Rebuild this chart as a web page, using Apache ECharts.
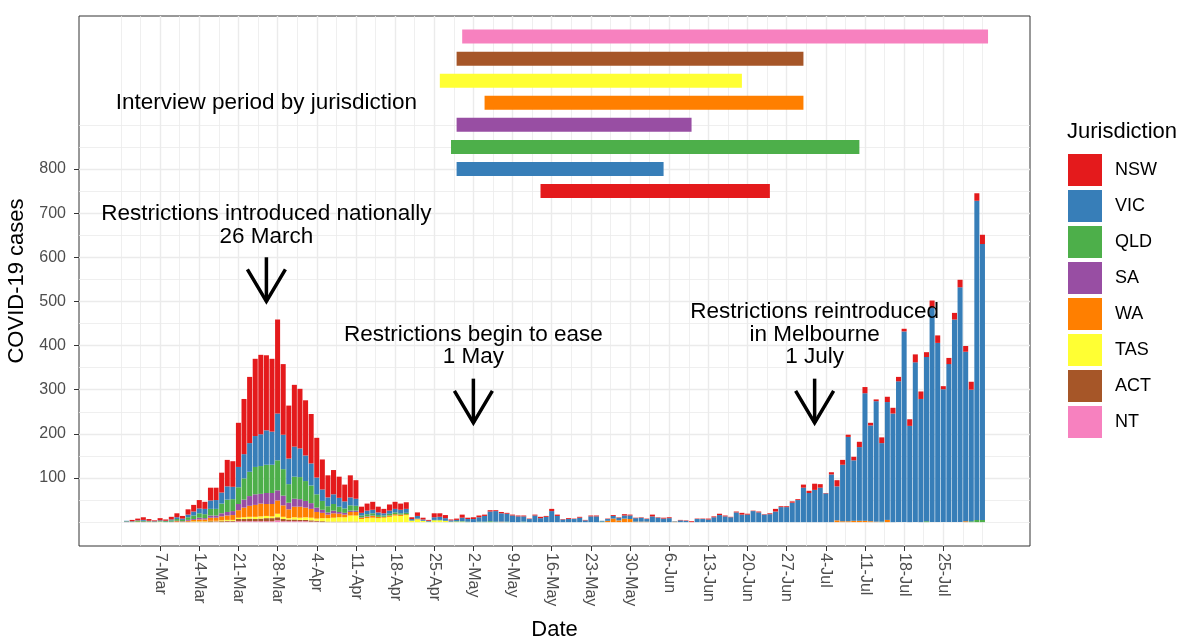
<!DOCTYPE html>
<html><head><meta charset="utf-8">
<script src="https://cdn.jsdelivr.net/npm/echarts@6/dist/echarts.min.js"></script>
<style>html,body{margin:0;padding:0;background:#fff}#chart{width:1188px;height:642px}</style>
</head><body><div id="chart"></div>
<script>
// ---------------- data ----------------
const firstDay = '2020-03-01';
const jurisdictions = ['NSW','VIC','QLD','SA','WA','TAS','ACT','NT'];

const nsw = [0,3,4,6,4,2,5,3,6,9,
 6,12,15,19,16,29,28,45,60,58,
 100,125,150,175,180,170,165,213,160,120,
 140,135,125,112,90,68,50,55,48,38,
 50,42,14,16,18,13,10,14,16,14,
 15,4,8,4,2,9,8,7,2,3,
 7,3,4,4,3,3,2,3,2,2,
 2,2,1,2,3,2,5,3,1,2,
 1,2,1,2,2,0,1,2,1,3,
 2,1,1,1,4,1,2,2,0,1,
 1,2,1,1,2,2,3,2,1,2,
 4,2,1,2,1,2,6,2,2,3,
 2,7,5,14,8,1,5,14,11,5,
 8,12,14,6,4,13,12,13,10,6,
 15,18,17,11,16,17,7,14,15,17,
 13,18,17,21];
const vic = [1,1,1,2,1,1,2,1,2,4,
 3,6,9,11,12,19,20,25,30,28,
 46,55,65,70,72,78,75,106,78,58,
 68,65,58,50,38,26,20,22,20,16,
 18,16,6,8,8,6,5,7,8,8,
 9,3,6,3,2,6,7,6,3,3,
 8,6,7,10,13,22,24,19,18,15,
 13,12,7,15,9,12,25,14,6,7,
 7,10,4,13,13,2,4,6,6,7,
 8,8,9,6,13,10,8,9,1,4,
 3,0,7,7,6,11,16,13,11,22,
 17,17,25,22,17,18,24,34,34,44,
 50,78,66,73,78,65,108,77,128,191,
 137,167,289,217,273,178,267,246,319,432,
 218,362,279,372,486,406,301,358,459,532,
 384,298,723,625];
const qld = [1,1,2,2,1,1,1,2,3,4,
 3,6,8,10,9,15,15,22,28,27,
 38,48,55,62,63,64,64,68,60,42,
 50,50,45,40,30,20,14,15,12,10,
 12,11,4,5,5,4,3,4,4,3,
 3,1,1,0,0,1,1,0,0,1,
 1,1,0,1,1,2,1,0,1,0,
 0,1,0,0,0,0,0,0,0,0,
 0,0,0,0,0,1,0,0,0,0,
 0,0,0,0,0,0,0,0,0,0,
 0,0,0,0,0,0,0,0,0,0,
 0,0,0,0,0,0,0,0,0,0,
 0,0,0,0,0,0,0,0,0,0,
 0,0,0,0,0,1,0,0,0,0,
 0,0,0,2,0,0,0,0,0,0,
 0,2,5,5];
const sa = [1,0,0,1,0,0,0,0,1,1,
 1,2,2,4,3,5,5,7,8,9,
 14,18,22,24,22,25,25,23,22,15,
 18,17,15,13,10,7,5,6,4,4,
 3,3,1,1,1,0,0,0,0,0,
 0,0,0,0,0,0,0,0,0,0,
 0,0,0,0,0,0,0,0,0,0,
 0,0,0,0,0,0,0,0,0,0,
 0,0,0,0,0,0,0,0,0,0,
 0,0,0,0,0,0,0,0,0,0,
 0,0,0,0,0,0,0,0,0,0,
 0,0,0,0,0,0,0,0,0,0,
 0,0,0,0,0,0,0,0,0,0,
 0,0,0,0,0,0,0,0,0,0,
 0,0,0,0,0,0,0,0,0,0,
 0,0,0,0];
const wa = [0,0,1,0,1,0,0,0,0,2,
 1,2,3,4,4,7,7,9,10,11,
 17,22,25,27,29,27,28,30,26,20,
 24,25,22,20,15,12,8,10,8,6,
 8,8,3,3,4,3,2,3,3,3,
 2,0,1,0,0,0,0,0,0,0,
 0,0,0,0,0,0,0,1,0,0,
 0,0,0,0,0,0,0,0,0,0,
 0,0,0,0,0,0,3,8,4,8,
 7,1,1,1,0,0,0,0,1,0,
 0,0,0,0,0,0,0,0,0,0,
 0,0,0,0,0,0,0,0,0,0,
 0,0,0,0,0,0,0,4,2,2,
 3,3,3,2,1,0,5,0,0,0,
 0,0,0,0,0,0,0,0,0,0,
 2,0,0,0];
const tas = [0,0,0,0,0,0,1,0,0,0,
 0,0,1,1,1,1,1,2,2,2,
 3,4,4,5,5,5,4,8,5,3,
 5,5,6,6,5,7,8,9,10,10,
 14,14,7,9,10,9,10,12,15,14,
 16,3,6,3,1,4,4,3,1,1,
 1,0,0,0,0,0,0,0,0,0,
 0,0,0,0,0,0,0,0,0,0,
 0,0,0,0,0,0,0,0,0,0,
 0,0,0,0,0,0,0,0,0,0,
 0,0,0,0,0,0,0,0,0,0,
 0,0,0,0,0,0,0,0,0,0,
 0,0,0,0,0,0,0,0,0,0,
 0,0,0,0,0,0,0,0,0,0,
 0,0,0,0,0,0,0,0,0,0,
 0,0,0,0];
const act = [0,0,0,0,0,0,0,0,0,0,
 0,1,1,1,1,2,1,2,2,2,
 5,5,6,5,6,7,7,7,5,4,
 4,3,3,3,2,2,1,1,1,1,
 1,1,0,0,0,0,0,0,0,0,
 0,0,0,0,0,0,0,0,0,0,
 0,0,0,0,0,0,0,0,0,0,
 0,0,0,0,0,0,0,0,0,0,
 0,0,0,0,0,0,0,0,0,0,
 0,0,0,0,0,0,0,0,0,0,
 0,0,0,0,0,0,0,0,0,0,
 0,0,0,0,0,0,0,0,0,0,
 0,0,0,0,0,0,0,0,0,0,
 0,0,0,0,0,0,0,0,0,0,
 0,0,0,0,0,0,0,0,0,0,
 0,0,0,0];
const nt = [0,0,0,0,0,0,0,0,0,0,
 0,0,0,0,0,0,1,0,1,1,
 2,2,2,2,2,2,2,4,2,2,
 2,2,2,1,1,0,0,0,0,0,
 0,0,0,0,0,0,0,0,0,0,
 0,0,0,0,0,0,0,0,0,0,
 0,0,0,0,0,0,0,0,0,0,
 0,0,0,0,0,0,0,0,0,0,
 0,0,0,0,0,0,0,0,0,0,
 0,0,0,0,0,0,0,0,0,0,
 0,0,0,0,0,0,0,0,0,0,
 0,0,0,0,0,0,0,0,0,0,
 0,0,0,0,0,0,0,0,0,0,
 0,0,0,0,0,0,0,0,0,0,
 0,0,0,0,0,0,0,0,0,0,
 0,0,0,0];

const tickDates = ['2020-03-07','2020-03-14','2020-03-21','2020-03-28','2020-04-04','2020-04-11','2020-04-18',
 '2020-04-25','2020-05-02','2020-05-09','2020-05-16','2020-05-23','2020-05-30','2020-06-06','2020-06-13',
 '2020-06-20','2020-06-27','2020-07-04','2020-07-11','2020-07-18','2020-07-25'];
const yTicks = [100,200,300,400,500,600,700,800];

// interview periods (NSW .. NT)
const interviewStart = ['2020-05-14','2020-04-29','2020-04-28','2020-04-29','2020-05-04','2020-04-26','2020-04-29','2020-04-30'];
const interviewEnd   = ['2020-06-24','2020-06-05','2020-07-10','2020-06-10','2020-06-30','2020-06-19','2020-06-30','2020-08-02'];
const interviewLevel = [750,800,850,900,950,1000,1050,1100];

// annotations
const noteText = ['Restrictions introduced nationally\n26 March','Restrictions begin to ease\n1 May',
                  'Restrictions reintroduced\nin Melbourne\n1 July','Interview period by jurisdiction'];
const noteDate = ['2020-03-26','2020-05-02','2020-07-02','2020-03-26'];
const noteY = [621,348,348,950];
const arrowDate = ['2020-03-26','2020-05-02','2020-07-02'];
const arrowFrom = [600,325,325];
const arrowTo = [500,225,225];

// ---------------- helpers / styles ----------------
const FONT = '"Liberation Sans", Arial, Helvetica, sans-serif';
const palette = {NSW:'#E41A1C', VIC:'#377EB8', QLD:'#4DAF4A', SA:'#984EA3', WA:'#FF7F00', TAS:'#FFFF33', ACT:'#A65628', NT:'#F781BF'};
const DAY = 86400000;
const base = Date.parse(firstDay + 'T00:00:00Z');
const idx = s => Math.round((Date.parse(s + 'T00:00:00Z') - base) / DAY);
const MON = ['Jan','Feb','Mar','Apr','May','Jun','Jul','Aug','Sep','Oct','Nov','Dec'];
const fmtDate = v => { const d = new Date(base + Math.round(v) * DAY); return d.getUTCDate() + '-' + MON[d.getUTCMonth()]; };

const tickK = tickDates.map(idx);
const xMinor = [];
for (let v = tickK[0] - 7; v <= tickK[tickK.length - 1] + 7 + 1e-6; v += 3.5) { if (tickK.indexOf(v) < 0) xMinor.push(v); }
const yMinor = [];
for (let v = 0; v <= 900; v += 50) { if (yTicks.indexOf(v) < 0) yMinor.push(v); }

// panel range in days since firstDay (one category per day on the bar axis)
const K_FIRST = -8, K_LAST = 161;
const X_MIN = K_FIRST - 0.5, X_MAX = K_LAST + 0.5, Y_MIN = -54.1, Y_MAX = 1146.6;
const dayCats = [];
for (let k = K_FIRST; k <= K_LAST; k++) dayCats.push(String(k));
const GRID_COLOR = '#EBEBEB';

const seriesData = {NSW: nsw, VIC: vic, QLD: qld, SA: sa, WA: wa, TAS: tas, ACT: act, NT: nt};
const barSeries = jurisdictions.slice().reverse().map(j => ({
  name: j, type: 'bar', stack: 'cases', xAxisIndex: 2, yAxisIndex: 0,
  barWidth: '90%', itemStyle: {color: palette[j]}, emphasis: {disabled: true},
  data: seriesData[j].map((v, i) => [String(i), v])
}));

const interviewSeries = {
  type: 'custom', name: 'interview', xAxisIndex: 0, yAxisIndex: 0, silent: true, z: 5,
  encode: {x: [0, 1], y: 2},
  data: jurisdictions.map((j, i) => [idx(interviewStart[i]), idx(interviewEnd[i]), interviewLevel[i], i]),
  renderItem: (params, api) => {
    const a = api.coord([api.value(0), api.value(2)]);
    const b = api.coord([api.value(1), api.value(2)]);
    return {type: 'rect', shape: {x: a[0], y: a[1] - 7, width: b[0] - a[0], height: 14},
            style: {fill: palette[jurisdictions[api.value(3)]]}};
  }
};

const noteSeries = {
  type: 'custom', name: 'notes', xAxisIndex: 0, yAxisIndex: 0, silent: true, z: 6,
  encode: {x: 0, y: 1},
  data: noteText.map((t, i) => [idx(noteDate[i]), noteY[i], i]),
  renderItem: (params, api) => {
    const i = api.value(2);
    const p = api.coord([api.value(0), api.value(1)]);
    return {type: 'text', x: p[0], y: p[1],
      style: {text: noteText[i], fill: '#000', fontSize: 22.5, fontFamily: FONT,
              align: 'center', verticalAlign: i === 3 ? 'middle' : 'bottom', lineHeight: 22.5}};
  }
};

const arrowSeries = {
  type: 'custom', name: 'arrows', xAxisIndex: 0, yAxisIndex: 0, silent: true, z: 6,
  encode: {x: 0, y: [1, 2]},
  data: arrowDate.map((d, i) => [idx(d), arrowFrom[i], arrowTo[i]]),
  renderItem: (params, api) => {
    const a = api.coord([api.value(0), api.value(1)]);
    const b = api.coord([api.value(0), api.value(2)]);
    const st = {stroke: '#000', lineWidth: 3.5, fill: null, lineJoin: 'miter'};
    return {type: 'group', children: [
      {type: 'line', shape: {x1: a[0], y1: a[1], x2: b[0], y2: b[1]}, style: st},
      {type: 'polyline', shape: {points: [[b[0] - 19, b[1] - 32], [b[0], b[1]], [b[0] + 19, b[1] - 32]]}, style: st}
    ]};
  }
};

const hiddenParts = {axisLine: {show: false, onZero: false}, axisLabel: {show: false}};

const option = {
  animation: false,
  textStyle: {fontFamily: FONT},
  title: {text: 'Jurisdiction', left: 1067, top: 121, padding: 0,
          textStyle: {fontSize: 22, fontWeight: 'normal', color: '#000', fontFamily: FONT}},
  legend: {data: jurisdictions, orient: 'vertical', left: 1068, top: 154, padding: 0,
           itemWidth: 34, itemHeight: 32, itemGap: 4, icon: 'rect', selectedMode: false,
           textStyle: {fontSize: 18, color: '#000', fontFamily: FONT, padding: [0, 0, 0, 8]}},
  grid: {left: 79, top: 16, width: 951, height: 530, show: true, borderColor: '#333333', borderWidth: 1,
         backgroundColor: '#fff', containLabel: false, outerBoundsMode: 'none'},
  xAxis: [
    {type: 'value', min: X_MIN, max: X_MAX, axisLine: {show: false, onZero: false},
     axisTick: {show: true, customValues: tickK, length: 5, lineStyle: {color: '#333333', width: 1}},
     axisLabel: {customValues: tickK, rotate: -90, formatter: fmtDate, color: '#4D4D4D', fontSize: 16, margin: 7, fontFamily: FONT},
     splitLine: {show: true, lineStyle: {color: GRID_COLOR, width: 1.4}},
     name: 'Date', nameLocation: 'middle', nameGap: 73,
     nameTextStyle: {fontSize: 22, color: '#000', fontFamily: FONT}},
    Object.assign({type: 'value', min: X_MIN, max: X_MAX,
     axisTick: {show: false, customValues: xMinor},
     splitLine: {show: true, lineStyle: {color: GRID_COLOR, width: 0.8}}}, hiddenParts),
    {type: 'category', data: dayCats, boundaryGap: true, show: false,
     axisLine: {show: false, onZero: false}, axisTick: {show: false}, axisLabel: {show: false}, splitLine: {show: false}}
  ],
  yAxis: [
    {type: 'value', min: Y_MIN, max: Y_MAX, axisLine: {show: false, onZero: false},
     axisTick: {show: true, customValues: yTicks, length: 5, lineStyle: {color: '#333333', width: 1}},
     axisLabel: {customValues: yTicks, color: '#4D4D4D', fontSize: 16, margin: 13, fontFamily: FONT},
     splitLine: {show: true, lineStyle: {color: GRID_COLOR, width: 1.4}},
     name: 'COVID-19 cases', nameLocation: 'middle', nameGap: 44,
     nameTextStyle: {fontSize: 22, color: '#000', fontFamily: FONT}},
    Object.assign({type: 'value', min: Y_MIN, max: Y_MAX,
     axisTick: {show: false, customValues: yMinor},
     splitLine: {show: true, lineStyle: {color: GRID_COLOR, width: 0.8}}}, hiddenParts)
  ],
  series: barSeries.concat([interviewSeries, noteSeries, arrowSeries])
};

const chart = echarts.init(document.getElementById('chart'), null, {renderer: 'canvas'});
chart.setOption(option);
</script>
</body></html>
